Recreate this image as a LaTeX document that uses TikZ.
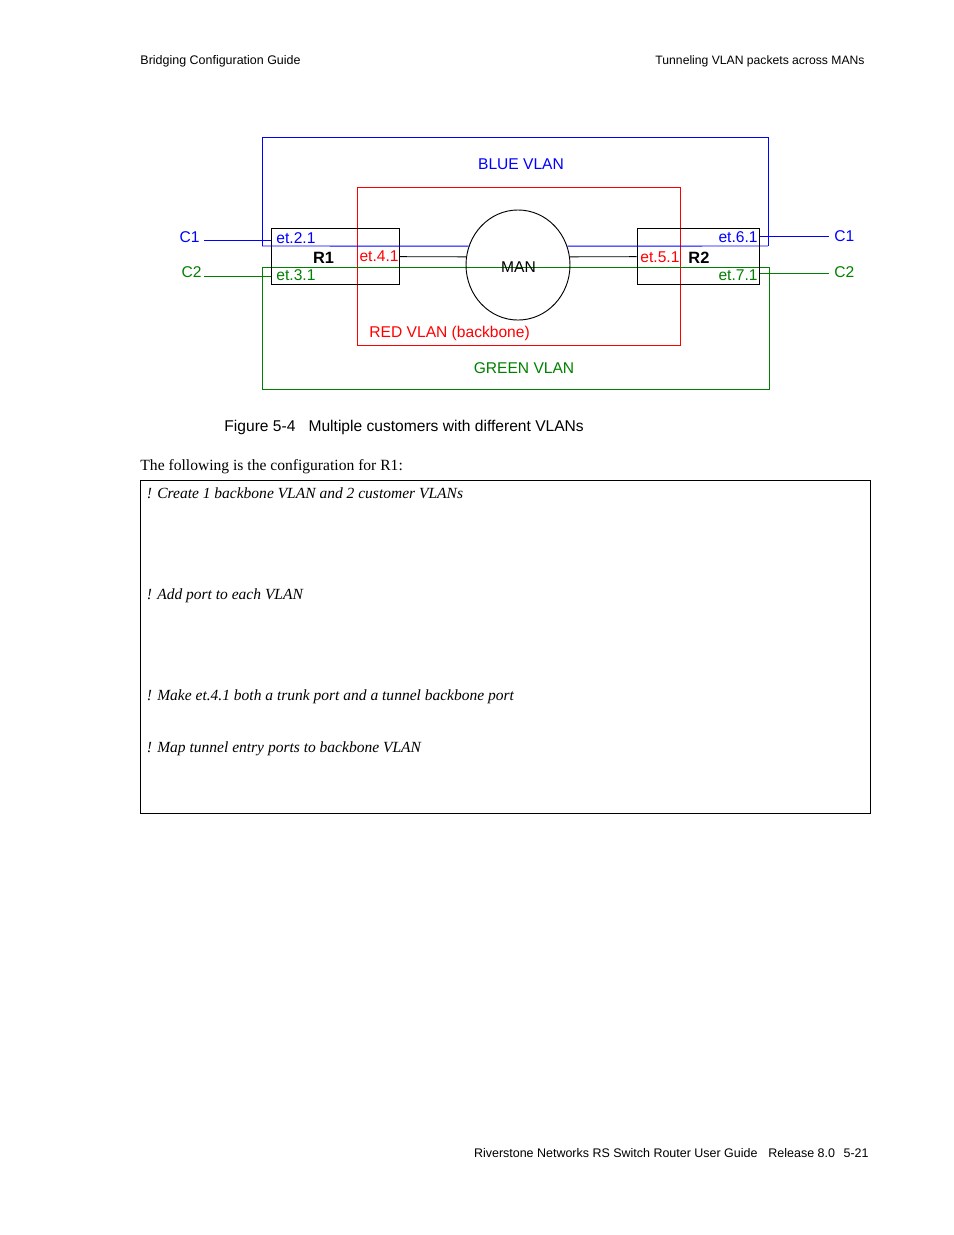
\documentclass[tikz,border=0pt]{standalone}
\usepackage{fontspec}
\setmainfont{Liberation Serif}
\newfontfamily\arial{Liberation Sans}
\usetikzlibrary{shapes.geometric}
\definecolor{vblue}{RGB}{0,0,255}
\definecolor{vred}{RGB}{255,0,0}
\definecolor{vgreen}{RGB}{0,128,0}
\begin{document}
\begin{tikzpicture}[x=0.6415pt,y=-0.6415pt,line width=0.6pt,
  sans/.style={inner sep=0pt,font=\arial\fontsize{10}{12}\selectfont},
  small/.style={inner sep=0pt,font=\arial\fontsize{8}{10}\selectfont},
  bold/.style={inner sep=0pt,font=\arial\bfseries\fontsize{10.5}{12}\selectfont},
  serif/.style={inner sep=0pt,font=\fontsize{10}{12}\selectfont},
  comment/.style={inner sep=0pt,font=\itshape\fontsize{9.95}{12}\selectfont},
  router/.style={draw=black,rectangle,inner sep=0pt,minimum width=82.1pt,minimum height=35.9pt},
  vblueline/.style={draw=vblue},
  vredline/.style={draw=vred},
  vgreenline/.style={draw=vgreen}]
\useasboundingbox (0,0) rectangle (954,1235);

% headers and footers
\node[small,anchor=base west] (hl) at (140,64) {Bridging Configuration Guide};
\node[small,font=\arial\fontsize{7.8}{10}\selectfont,anchor=base east] (hr) at (865,64) {Tunneling VLAN packets across MANs};
\node[small,anchor=base east] (f1) at (758,1157) {Riverstone Networks RS Switch Router User Guide};
\node[small,anchor=base west] (f2) at (768,1157) {Release 8.0};
\node[small,anchor=base east] (f3) at (869,1157) {5-21};

% VLAN rectangles
\draw[vredline] (357,187) rectangle (680,345);
\coordinate (bl) at (262,246);
\coordinate (br) at (768,246);
\draw[vblueline] (bl) -- (262,137) -- (768,137) -- (br);
\coordinate (gl) at (262,267);
\coordinate (gr) at (769,267);
\draw[vgreenline] (gl) -- (262,389) -- (769,389) -- (gr);
\draw[vgreenline] (gl) -- (gr);

% routers and MAN
\node[router] (r1) at (335,256) {};
\node[router,minimum width=78.3pt] (r2) at (698,256) {};
\node[draw=black,ellipse,inner sep=0pt,minimum width=66.7pt,minimum height=70.6pt] (man) at (518,265) {};
\node[sans,anchor=base] (mant) at (518.5,272) {MAN};

\draw[vblueline] (bl) -- (man.159);
\draw[vblueline] (man.21) -- (br);
\draw (r1.east |- 0,256.7) -- (man.171);
\draw (man.9) -- (r2.west |- 0,256.7);

% customer links
\coordinate (c1l) at (204,240);
\coordinate (c2l) at (204,276);
\coordinate (c1r) at (829,236);
\coordinate (c2r) at (829,273);
\draw[vblueline] (c1l) -- (r1.west |- c1l);
\draw[vgreenline] (c2l) -- (r1.west |- c2l);
\draw[vblueline] (r2.east |- c1r) -- (c1r);
\draw[vgreenline] (r2.east |- c2r) -- (c2r);

% labels
\node[sans,text=vblue,anchor=base] (blue) at (521,169) {BLUE VLAN};
\node[sans,text=vred,anchor=base west] (red) at (369,337) {RED VLAN (backbone)};
\node[sans,text=vgreen,anchor=base] (green) at (524,373) {GREEN VLAN};

\node[sans,text=vblue,anchor=base east] (c1a) at (200,242) {C1};
\node[sans,text=vgreen,anchor=base east] (c2a) at (202,277) {C2};
\node[sans,text=vblue,anchor=base west] (c1b) at (834,241) {C1};
\node[sans,text=vgreen,anchor=base west] (c2b) at (834,277) {C2};

\node[sans,text=vblue,anchor=base west] (p21) at (276,243) {et.2.1};
\node[sans,text=vgreen,anchor=base west] (p31) at (276,280) {et.3.1};
\node[sans,text=vred,anchor=base east] (p41) at (399,261) {et.4.1};
\node[bold,anchor=base] (r1t) at (323.5,263) {R1};
\node[sans,text=vred,anchor=base west] (p51) at (640,262) {et.5.1};
\node[bold,anchor=base west] (r2t) at (688,263) {R2};
\node[sans,text=vblue,anchor=base east] (p61) at (758,242) {et.6.1};
\node[sans,text=vgreen,anchor=base east] (p71) at (758,280) {et.7.1};

% caption and text
\node[sans,anchor=base west] (cap) at (224,431) {Figure 5-4\hspace{8.4pt}Multiple customers with different VLANs};
\node[serif,anchor=base west] (intro) at (140,470) {The following is the configuration for R1:};
\node[draw=black,rectangle,inner sep=0pt,minimum width=468.3pt,minimum height=213.6pt] (cfg) at (505,646.5) {};
\node[comment,anchor=base west] (k1) at (146.5,498) {! Create 1 backbone VLAN and 2 customer VLANs};
\node[comment,anchor=base west] (k2) at (146.5,599) {! Add port to each VLAN};
\node[comment,anchor=base west] (k3) at (146.5,700) {! Make et.4.1 both a trunk port and a tunnel backbone port};
\node[comment,anchor=base west] (k4) at (146.5,752) {! Map tunnel entry ports to backbone VLAN};
\end{tikzpicture}
\end{document}
